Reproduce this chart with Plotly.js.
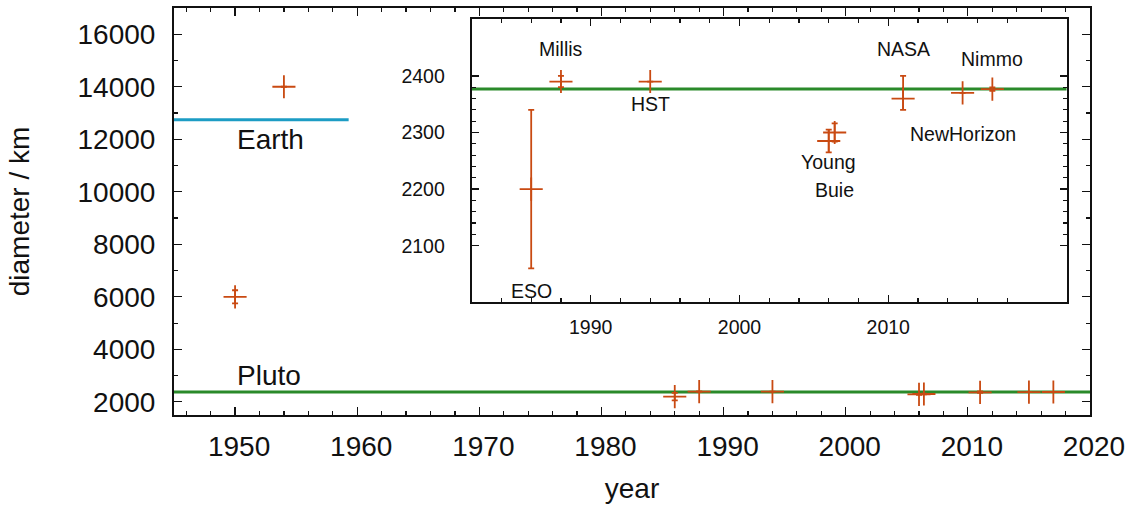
<!DOCTYPE html>
<html>
<head>
<meta charset="utf-8">
<script src="https://cdn.plot.ly/plotly-3.0.1.min.js"></script>
<style>html,body{margin:0;padding:0;background:#fff;}#chart{width:1130px;height:505px;}</style>
</head>
<body>
<div id="chart"></div>
<script>
// ---- data ----
const years      = [1950, 1954, 1986, 1988, 1994, 2006.0, 2006.4, 2011, 2015, 2017];
const diameters  = [6000, 14000, 2200, 2390, 2390, 2285, 2300, 2360, 2370, 2376.6];
const errPlus    = [250, null, 140, 10, null, 20, 16, 40, null, 3.2];
const errMinus   = [250, null, 140, 10, null, 20, 16, 20, null, 3.2];
const sources    = ['', '', 'ESO', 'Millis', 'HST', 'Young', 'Buie', 'NASA', 'NewHorizon', 'Nimmo'];
const plutoDiameter = 2377;
const earthDiameter = 12742;
const earthLineYears = [1945, 1959.3];
const mainXRange = [1945, 2020];
const mainYRange = [1500, 17000];
const insetXRange = [1982, 2022];
const insetYRange = [2000, 2500];
const mainXTicks = [1950, 1960, 1970, 1980, 1990, 2000, 2010, 2020];
const mainYTicks = [2000, 4000, 6000, 8000, 10000, 12000, 14000, 16000];
const insetXTicks = [1990, 2000, 2010];
const insetYTicks = [2100, 2200, 2300, 2400];

// ---- styles ----
const RED = '#c94a12';
const GREEN = '#2a8a2a';
const CYAN = '#1c9cc4';
const FONT = 'Liberation Sans, Arial, Helvetica, sans-serif';

function pointTrace(xs, ys, ep, em, xa, ya) {
  return {
    type: 'scatter', mode: 'markers', x: xs, y: ys, xaxis: xa, yaxis: ya,
    marker: {symbol: 'cross-thin', size: 16.5, color: RED, line: {color: RED, width: 1.8}},
    error_y: {type: 'data', symmetric: false, array: ep, arrayminus: em, visible: true,
              color: RED, thickness: 1.8, width: 3},
    hoverinfo: 'skip', cliponaxis: false
  };
}

const inIdx = years.map((y, i) => i).filter(i => years[i] >= insetXRange[0]);
const pick = (arr) => inIdx.map(i => arr[i]);

const traces = [
  pointTrace(years, diameters, errPlus, errMinus, 'x', 'y'),
  pointTrace(pick(years), pick(diameters), pick(errPlus), pick(errMinus), 'x2', 'y2')
];

// label offsets (pixels, styling)
const labelShift = {ESO: -102, Millis: 33, HST: -22, Young: -21, Buie: -58, NASA: 50, NewHorizon: -41, Nimmo: 30};
const annotations = [];
inIdx.forEach(i => {
  if (!sources[i]) return;
  annotations.push({xref: 'x2', yref: 'y2', x: years[i], y: diameters[i], text: sources[i],
    showarrow: false, yshift: labelShift[sources[i]], font: {family: FONT, size: 19.5, color: '#111'}});
});
annotations.push({xref: 'x', yref: 'y', x: 1950, y: earthDiameter, text: 'Earth', showarrow: false,
  xanchor: 'left', yshift: -20, font: {family: FONT, size: 28, color: '#111'}});
annotations.push({xref: 'x', yref: 'y', x: 1950, y: plutoDiameter, text: 'Pluto', showarrow: false,
  xanchor: 'left', yshift: 16, font: {family: FONT, size: 28, color: '#111'}});

const shapes = [
  {type: 'line', xref: 'x', yref: 'y', x0: mainXRange[0], x1: mainXRange[1], y0: plutoDiameter, y1: plutoDiameter,
   line: {color: GREEN, width: 3}, layer: 'below'},
  {type: 'line', xref: 'x2', yref: 'y2', x0: insetXRange[0], x1: insetXRange[1], y0: plutoDiameter, y1: plutoDiameter,
   line: {color: GREEN, width: 3}, layer: 'below'},
  {type: 'line', xref: 'x', yref: 'y', x0: earthLineYears[0], x1: earthLineYears[1], y0: earthDiameter, y1: earthDiameter,
   line: {color: CYAN, width: 3}, layer: 'below'}
];

const axBase = {showgrid: false, zeroline: false, showline: true, linecolor: '#111', linewidth: 2,
  mirror: 'ticks', ticks: 'inside', tickcolor: '#111', tickwidth: 1.2, tickformat: 'd'};

const insetMinorX = [];
for (let v = 1984; v <= 2018; v += 2) if (v % 10 !== 0) insetMinorX.push(v);
const insetMinorY = [];
for (let v = 2100; v <= 2400; v += 20) if (v % 100 !== 0) insetMinorY.push(v);

const layout = {
  width: 1130, height: 505,
  margin: {l: 174, r: 40, t: 8, b: 90},
  paper_bgcolor: '#fff', plot_bgcolor: '#fff',
  showlegend: false, hovermode: false,
  font: {family: FONT, color: '#111'},
  xaxis: Object.assign({}, axBase, {
    domain: [0, 1], anchor: 'y', range: mainXRange,
    tickmode: 'array', tickvals: mainXTicks, ticklen: 8,
    minor: {tick0: 1946, dtick: 2, ticklen: 4, ticks: 'inside', tickcolor: '#111', tickwidth: 1.2},
    tickfont: {family: FONT, size: 28, color: '#111'}, ticklabelstandoff: 5, ticklabelshift: 4,
    title: {text: 'year', font: {family: FONT, size: 28, color: '#111'}, standoff: 18}
  }),
  yaxis: Object.assign({}, axBase, {
    domain: [0, 1], anchor: 'x', range: mainYRange,
    tickmode: 'array', tickvals: mainYTicks, ticklen: 8,
    minor: {tick0: 1000, dtick: 1000, ticklen: 4, ticks: 'inside', tickcolor: '#111', tickwidth: 1.2},
    tickfont: {family: FONT, size: 28, color: '#111'}, ticklabelstandoff: 11,
    title: {text: 'diameter / km', font: {family: FONT, size: 28, color: '#111'}, standoff: 40}
  }),
  xaxis2: Object.assign({}, axBase, {
    domain: [0.325, 0.9746], anchor: 'y2', range: insetXRange,
    tickmode: 'array', tickvals: insetXTicks, ticklen: 7,
    minor: {tickmode: 'array', tickvals: insetMinorX, ticklen: 4, ticks: 'inside', tickcolor: '#111', tickwidth: 1.2},
    tickfont: {family: FONT, size: 19.5, color: '#111'}, ticklabelstandoff: 6
  }),
  yaxis2: Object.assign({}, axBase, {
    domain: [0.277, 0.9722], anchor: 'x2', range: insetYRange,
    tickmode: 'array', tickvals: insetYTicks, ticklen: 7,
    minor: {tickmode: 'array', tickvals: insetMinorY, ticklen: 4, ticks: 'inside', tickcolor: '#111', tickwidth: 1.2},
    tickfont: {family: FONT, size: 19.5, color: '#111'}, ticklabelstandoff: 21
  }),
  shapes: shapes,
  annotations: annotations
};

Plotly.newPlot('chart', traces, layout, {staticPlot: true, displayModeBar: false});
</script>
</body>
</html>
